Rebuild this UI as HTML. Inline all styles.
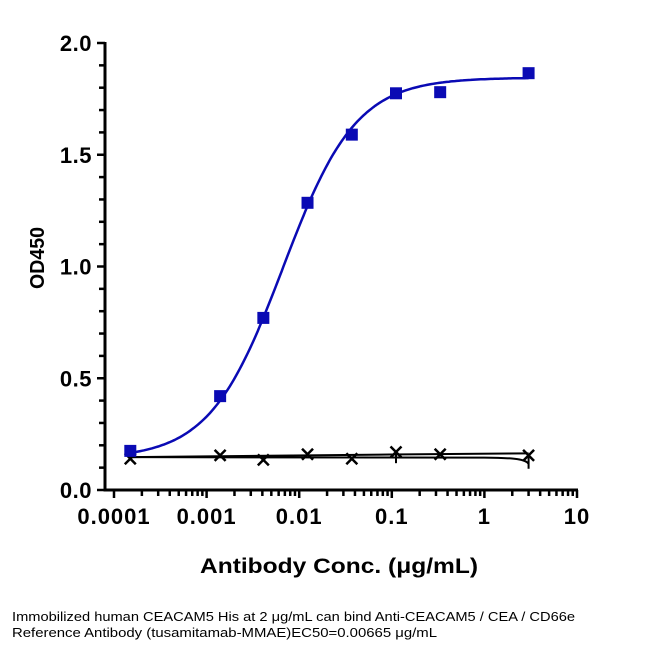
<!DOCTYPE html>
<html><head><meta charset="utf-8"><style>
body{margin:0;background:#fff;}
svg text{font-family:"Liberation Sans",Arial,sans-serif;}
</style></head><body>
<svg id="chart" width="654" height="651" xmlns="http://www.w3.org/2000/svg">
<g id="axes"></g><g id="marks"></g>
<text transform="translate(44,258) rotate(-90)" text-anchor="middle" font-size="20" font-weight="bold" textLength="62" lengthAdjust="spacingAndGlyphs">OD450</text>
<text x="200" y="573" font-size="21" font-weight="bold" textLength="278" lengthAdjust="spacingAndGlyphs">Antibody Conc. (μg/mL)</text>
<text x="12" y="621" font-size="13" textLength="563" lengthAdjust="spacingAndGlyphs">Immobilized human CEACAM5 His at 2  μg/mL can bind  Anti-CEACAM5 / CEA / CD66e</text>
<text x="12" y="637" font-size="13" textLength="425" lengthAdjust="spacingAndGlyphs">Reference Antibody (tusamitamab-MMAE)EC50=0.00665 μg/mL</text>
</svg>
<script>
const concs=[0.00015,0.0014,0.0041,0.0123,0.037,0.111,0.333,3];
const blueVals=[0.175,0.42,0.77,1.285,1.59,1.775,1.78,1.865];
const blackVals=[0.14,0.155,0.135,0.16,0.14,0.17,0.16,0.155];
const xTicks=[0.0001,0.001,0.01,0.1,1,10];
const xTickLabels=["0.0001","0.001","0.01","0.1","1","10"];
const yTicks=[0,0.5,1.0,1.5,2.0];
const yTickLabels=["0.0","0.5","1.0","1.5","2.0"];
const fitBottom=0.14, fitTop=1.845, ec50=0.00665, hill=1.1;

const NS="http://www.w3.org/2000/svg";
const X0=114,DEC=92.6,Y0=490,YU=223.5,AXL=105;
const xs=v=>X0+(Math.log10(v)+4)*DEC;
const ys=v=>Y0-v*YU;
const axes=document.getElementById('axes'),marks=document.getElementById('marks');
function mk(tag,attrs,parent){const e=document.createElementNS(NS,tag);for(const k in attrs)e.setAttribute(k,attrs[k]);parent.appendChild(e);return e;}
let e;
e=mk('line',{x1:AXL,y1:ys(2)-1,x2:AXL,y2:Y0+1.5,stroke:'#000','stroke-width':3},axes);


e=mk('line',{x1:AXL-1.5,y1:Y0,x2:xs(10)+1,y2:Y0,stroke:'#000','stroke-width':3},axes);


for(let i=0;i<=20;i++){const v=i/10,maj=i%5==0;
 e=mk('line',{x1:AXL-(maj?8:6),y1:ys(v),x2:AXL,y2:ys(v),stroke:'#000','stroke-width':2.5},axes);
 
 }
yTicks.forEach((v,i)=>{e=mk('text',{x:92,y:ys(v)+8,'text-anchor':'end','font-size':22,'font-weight':'bold','letter-spacing':0.5},axes);e.textContent=yTickLabels[i];
 
 });
for(let d=-4;d<=1;d++)for(let m=1;m<=9;m++){if(d==1&&m>1)break;const v=m*Math.pow(10,d);
 e=mk('line',{x1:xs(v),y1:Y0,x2:xs(v),y2:Y0+(m==1?8:6),stroke:'#000','stroke-width':2.5},axes);
 
 }
xTicks.forEach((v,i)=>{e=mk('text',{x:xs(v),y:524,'text-anchor':'middle','font-size':22,'font-weight':'bold','letter-spacing':1},axes);e.textContent=xTickLabels[i];
 
 });
let d='';for(let i=0;i<=200;i++){const lx=Math.log10(concs[0])+i/200*(Math.log10(concs[7])-Math.log10(concs[0]));const c=Math.pow(10,lx);
 const y=fitBottom+(fitTop-fitBottom)/(1+Math.pow(ec50/c,hill));d+=(i?'L':'M')+xs(c).toFixed(1)+','+ys(y).toFixed(1);}
e=mk('path',{d:d,fill:'none',stroke:'#0a0ab4','stroke-width':2.5},marks);


const bAvg=blackVals.reduce((a,b)=>a+b)/blackVals.length;
e=mk('path',{d:`M${xs(concs[0])},${ys(bAvg-0.005)} C${xs(0.01)},${ys(bAvg-0.002)} ${xs(0.1)},${ys(bAvg+0.01)} ${xs(concs[7])},${ys(bAvg+0.012)}`,fill:'none',stroke:'#000','stroke-width':2},marks);


e=mk('path',{d:`M${xs(concs[0])},${ys(bAvg-0.005)} L${xs(1)},${ys(bAvg-0.007)} C${xs(2.2)},${ys(bAvg-0.008)} ${xs(2.8)},${ys(bAvg-0.015)} ${xs(concs[7])},${ys(bAvg-0.035)}`,fill:'none',stroke:'#000','stroke-width':2},marks);


e=mk('line',{x1:xs(concs[5]),y1:ys(blackVals[5]),x2:xs(concs[5]),y2:ys(blackVals[5]-0.05),stroke:'#000','stroke-width':2},marks);


e=mk('line',{x1:xs(concs[7]),y1:ys(blackVals[7]),x2:xs(concs[7]),y2:ys(blackVals[7]-0.06),stroke:'#000','stroke-width':2},marks);


concs.forEach((c,i)=>{const x=xs(c),y=ys(blackVals[i]);
 e=mk('path',{d:`M${x-5.5},${y-5.5}L${x+5.5},${y+5.5}M${x+5.5},${y-5.5}L${x-5.5},${y+5.5}`,stroke:'#000','stroke-width':2.5},marks);
 
 });
concs.forEach((c,i)=>{const x=xs(c),y=ys(blueVals[i]);
 e=mk('rect',{x:x-6,y:y-6,width:12,height:12,fill:'#0a0ab4'},marks);
 
 });
</script>
</body></html>
